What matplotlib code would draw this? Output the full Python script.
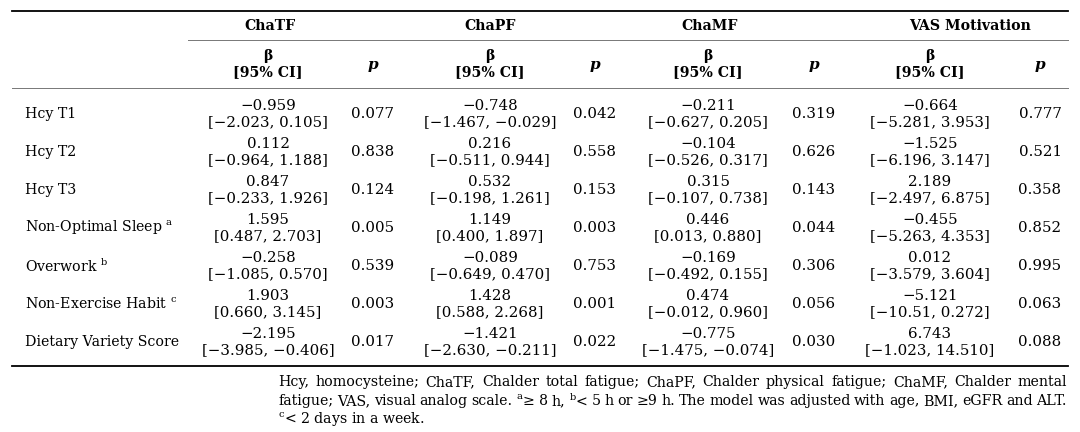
import matplotlib
matplotlib.use('Agg')
import matplotlib.pyplot as plt

plt.rcParams['font.family'] = ['DejaVu Serif']
plt.rcParams['mathtext.fontset'] = 'dejavuserif'

# table content
row_labels = ['Hcy T1', 'Hcy T2', 'Hcy T3', r'Non-Optimal Sleep $^{\mathrm{a}}$',
              r'Overwork $^{\mathrm{b}}$', r'Non-Exercise Habit $^{\mathrm{c}}$',
              'Dietary Variety Score']
outcomes = ['ChaTF', 'ChaPF', 'ChaMF', 'VAS Motivation']

chatf_beta = ['−0.959', '0.112', '0.847', '1.595', '−0.258', '1.903', '−2.195']
chatf_ci = ['[−2.023, 0.105]', '[−0.964, 1.188]', '[−0.233, 1.926]', '[0.487, 2.703]',
            '[−1.085, 0.570]', '[0.660, 3.145]', '[−3.985, −0.406]']
chatf_p = ['0.077', '0.838', '0.124', '0.005', '0.539', '0.003', '0.017']

chapf_beta = ['−0.748', '0.216', '0.532', '1.149', '−0.089', '1.428', '−1.421']
chapf_ci = ['[−1.467, −0.029]', '[−0.511, 0.944]', '[−0.198, 1.261]', '[0.400, 1.897]',
            '[−0.649, 0.470]', '[0.588, 2.268]', '[−2.630, −0.211]']
chapf_p = ['0.042', '0.558', '0.153', '0.003', '0.753', '0.001', '0.022']

chamf_beta = ['−0.211', '−0.104', '0.315', '0.446', '−0.169', '0.474', '−0.775']
chamf_ci = ['[−0.627, 0.205]', '[−0.526, 0.317]', '[−0.107, 0.738]', '[0.013, 0.880]',
            '[−0.492, 0.155]', '[−0.012, 0.960]', '[−1.475, −0.074]']
chamf_p = ['0.319', '0.626', '0.143', '0.044', '0.306', '0.056', '0.030']

vas_beta = ['−0.664', '−1.525', '2.189', '−0.455', '0.012', '−5.121', '6.743']
vas_ci = ['[−5.281, 3.953]', '[−6.196, 3.147]', '[−2.497, 6.875]', '[−5.263, 4.353]',
          '[−3.579, 3.604]', '[−10.51, 0.272]', '[−1.023, 14.510]']
vas_p = ['0.777', '0.521', '0.358', '0.852', '0.995', '0.063', '0.088']

footnote = [
    'Hcy, homocysteine; ChaTF, Chalder total fatigue; ChaPF, Chalder physical fatigue; ChaMF, Chalder mental',
    r'fatigue; VAS, visual analog scale. $^{\mathrm{a}}$≥ 8 h, $^{\mathrm{b}}$< 5 h or ≥9 h. '
    'The model was adjusted with age, BMI, eGFR and ALT.',
    r'$^{\mathrm{c}}$< 2 days in a week.',
]

columns = [(chatf_beta, chatf_ci, chatf_p), (chapf_beta, chapf_ci, chapf_p),
           (chamf_beta, chamf_ci, chamf_p), (vas_beta, vas_ci, vas_p)]

# layout (pixels)
W, H = 1080, 432
FS = 10.8
FS_LABEL = 10.2
FS_HEAD = 10.2
FS_NOTE = 10.2
beta_x = [268, 490, 708, 930]
p_x = [373, 595, 814, 1040]
group_x = [270, 490, 710, 970]
row_y0, row_dy = 114, 38.0
left, right = 12, 1068

fig = plt.figure(figsize=(W / 100, H / 100), dpi=100)
ax = fig.add_axes([0, 0, 1, 1])
ax.set_xlim(0, W)
ax.set_ylim(H, 0)
ax.axis('off')

# rules
ax.plot([left, right], [11, 11], color='black', lw=1.3)
ax.plot([188, right], [40, 40], color='#777777', lw=0.7)
ax.plot([left, right], [88, 88], color='#777777', lw=0.7)
ax.plot([left, right], [366, 366], color='black', lw=1.3)

# header
for name, gx in zip(outcomes, group_x):
    ax.text(gx, 26, name, ha='center', va='center', fontsize=FS_HEAD, fontweight='bold')
for bx, px in zip(beta_x, p_x):
    ax.text(bx, 56, 'β', ha='center', va='center', fontsize=FS_HEAD, fontweight='bold')
    ax.text(bx, 72, '[95% CI]', ha='center', va='center', fontsize=FS_HEAD, fontweight='bold')
    ax.text(px, 65, 'p', ha='center', va='center', fontsize=FS_HEAD + 0.8,
            fontweight='bold', fontstyle='italic')

# body
for i, label in enumerate(row_labels):
    y = row_y0 + i * row_dy
    ax.text(25, y, label, ha='left', va='center', fontsize=FS_LABEL)
    for (beta, ci, p), bx, px in zip(columns, beta_x, p_x):
        ax.text(bx, y - 7.5, beta[i], ha='center', va='center', fontsize=FS)
        ax.text(bx, y + 8, ci[i], ha='center', va='center', fontsize=FS)
        ax.text(px, y, p[i], ha='center', va='center', fontsize=FS)

# footnote, justified between x0 and x1 except the last line
fig.canvas.draw()
renderer = fig.canvas.get_renderer()
x0, x1 = 278, 1067


def word_width(word):
    t = ax.text(0, 0, word, fontsize=FS_NOTE)
    bb = t.get_window_extent(renderer)
    t.remove()
    return bb.width


for j, line in enumerate(footnote):
    y = 382 + j * 19
    if j == len(footnote) - 1:
        ax.text(x0, y, line, ha='left', va='center', fontsize=FS_NOTE)
        continue
    words = line.split(' ')
    widths = [word_width(w) for w in words]
    gap = ((x1 - x0) - sum(widths)) / (len(words) - 1)
    x = x0
    for w, wd in zip(words, widths):
        ax.text(x, y, w, ha='left', va='center', fontsize=FS_NOTE)
        x += wd + gap

fig.savefig('out.png', dpi=100)
